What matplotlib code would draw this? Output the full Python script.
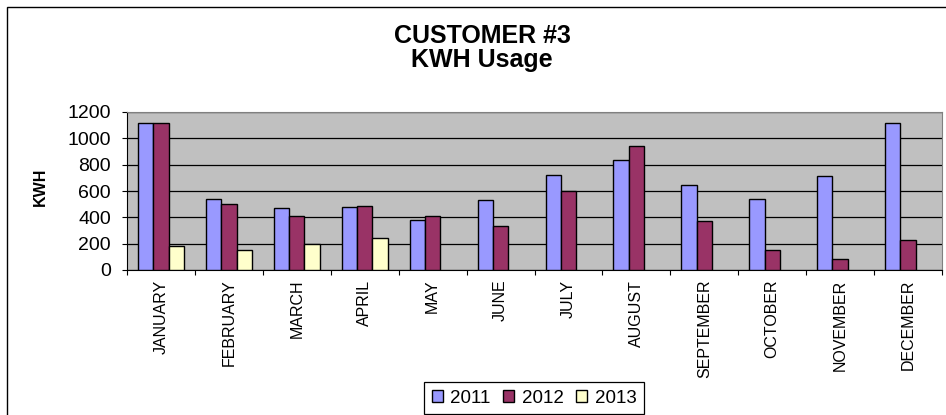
import numpy as np
import matplotlib.pyplot as plt
from matplotlib.patches import Rectangle

plt.rcParams['font.family'] = ['Liberation Sans', 'DejaVu Sans']

months = ['JANUARY', 'FEBRUARY', 'MARCH', 'APRIL', 'MAY', 'JUNE', 'JULY',
          'AUGUST', 'SEPTEMBER', 'OCTOBER', 'NOVEMBER', 'DECEMBER']
kwh_2011 = [1114, 542, 468, 476, 380, 532, 724, 835, 648, 542, 714, 1114]
kwh_2012 = [1114, 499, 413, 489, 413, 337, 597, 942, 370, 154, 86, 228]
kwh_2013 = [185, 152, 197, 243, np.nan, np.nan, np.nan, np.nan, np.nan, np.nan, np.nan, np.nan]
years = ['2011', '2012', '2013']
colors = ['#9999FF', '#993366', '#FFFFCC']

W, H = 946, 415
fig = plt.figure(figsize=(W / 100, H / 100), dpi=100)

# chart area border (runs off the right and bottom of the picture)
fig.patches.append(Rectangle((7 / W, -0.1), 1.1, 1.1 - 7 / H, transform=fig.transFigure,
                             fill=False, edgecolor='black', linewidth=1))

ax = fig.add_axes([127 / W, (H - 270) / H, 815 / W, 158 / H])
ax.set_facecolor('#C0C0C0')

x = np.arange(len(months))
bw = 0.225
for i, (vals, c, lab) in enumerate(zip([kwh_2011, kwh_2012, kwh_2013], colors, years)):
    ax.bar(x + (i - 1) * bw, vals, width=bw, color=c, edgecolor='black',
           linewidth=1.0, label=lab, zorder=3)

ax.set_xlim(-0.5, len(months) - 0.5)
ax.set_ylim(0, 1200)
ax.set_yticks(range(0, 1201, 200))
ax.grid(axis='y', color='black', linewidth=0.9, zorder=1)

ax.set_xticks(x)
ax.set_xticklabels(months, rotation=90, fontsize=11.5, va='top', ha='center')
ax.set_xticks(np.arange(-0.5, len(months)), minor=True)
ax.tick_params(axis='x', which='major', length=0, pad=7)
ax.tick_params(axis='x', which='minor', length=3.5, width=0.8, direction='out')
ax.tick_params(axis='y', length=3.5, width=0.8, pad=8, labelsize=14)

for s in ['top', 'right']:
    ax.spines[s].set_color('#808080')
ax.spines['left'].set_color('black')
ax.spines['bottom'].set_color('black')

ax.set_ylabel('KWH', fontsize=11.5, fontweight='bold', labelpad=0)
ax.yaxis.set_label_coords((48 - 127) / 815, (270 - 187) / 158)

fig.text(482 / W, 1 - 48 / H, 'CUSTOMER #3\nKWH Usage', ha='center', va='center',
         fontsize=18, fontweight='bold', linespacing=1.05)

leg = fig.legend(loc='center', bbox_to_anchor=(534 / W, 1 - 398 / H), ncol=3,
                 fontsize=13.5, fancybox=False, edgecolor='black', framealpha=1,
                 handlelength=0.6, handleheight=0.6, handletextpad=0.4,
                 columnspacing=0.65, borderpad=0.4)
leg.get_frame().set_linewidth(0.9)

fig.savefig('out.png', dpi=100)
